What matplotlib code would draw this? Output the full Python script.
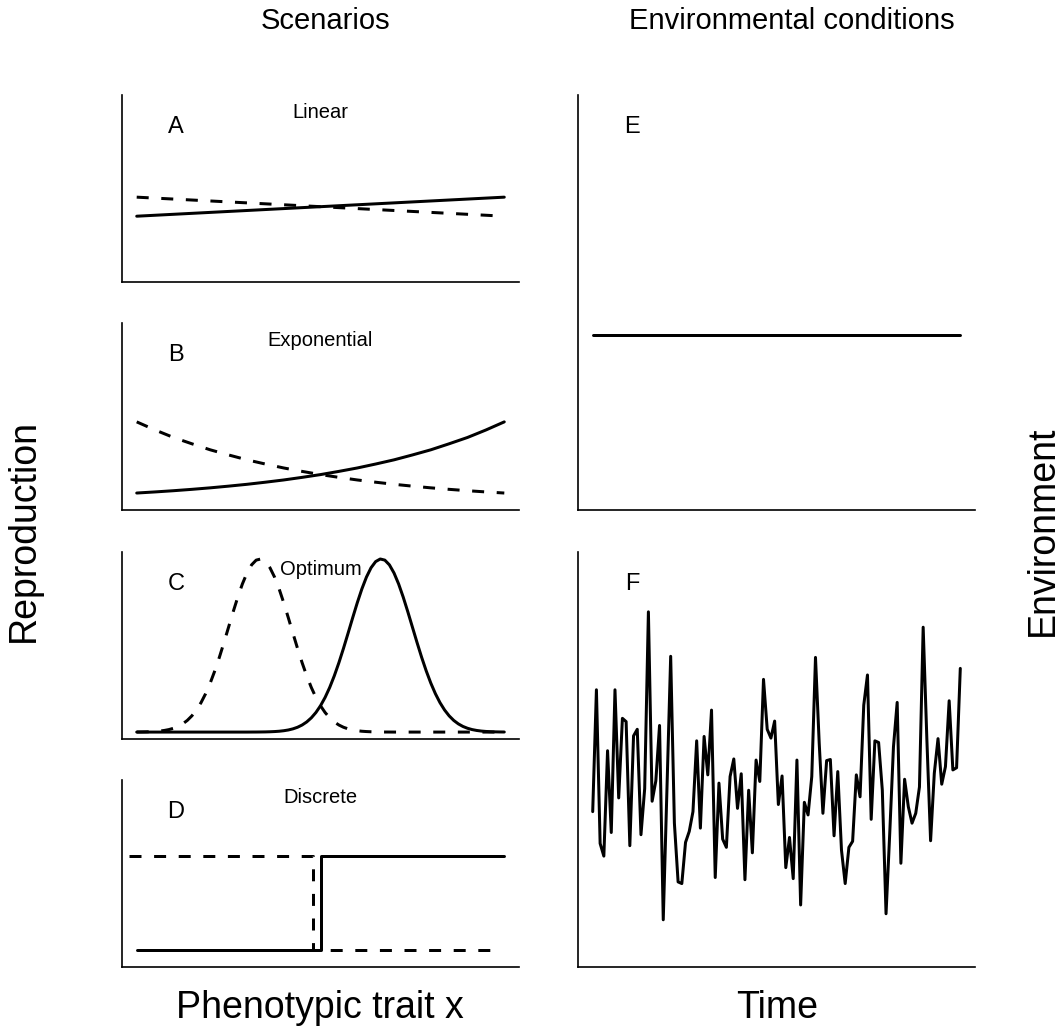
import matplotlib
matplotlib.use("Agg")
import matplotlib.pyplot as plt

plt.rcParams['font.family'] = ['Liberation Sans', 'DejaVu Sans']

# ==========================================
# data
# ==========================================
# A - linear
lin_x = [0.0, 1.0]
lin_solid = [0.34, 0.45]
lin_dash = [0.45, 0.34]

# B - exponential
exp_x = [0.0, 0.05, 0.1, 0.15, 0.2, 0.25, 0.3, 0.35, 0.4, 0.45, 0.5,
         0.55, 0.6, 0.65, 0.7, 0.75, 0.8, 0.85, 0.9, 0.95, 1.0]
exp_solid = [0.058, 0.0644, 0.0714, 0.0793, 0.0880, 0.0978, 0.1084, 0.1205,
             0.1335, 0.1485, 0.1645, 0.1830, 0.2027, 0.2255, 0.2497, 0.2779,
             0.3076, 0.3425, 0.379, 0.4221, 0.469]
exp_dash = exp_solid[::-1]

# C - optimum (sampled every 0.0125 along the trait axis)
opt_x = [i * 0.0125 for i in range(81)]
opt_solid = [0.0] * 25 + [
    0.0002, 0.0003, 0.0006, 0.0010, 0.0018, 0.0030, 0.0048, 0.0078, 0.0121, 0.0186,
    0.0278, 0.0408, 0.0585, 0.0822, 0.1130, 0.1520, 0.2000, 0.2576, 0.3247, 0.4004,
    0.4833, 0.5709, 0.6599, 0.7465, 0.8264, 0.8952, 0.9490, 0.9846, 0.9996, 0.9931,
    0.9656, 0.9187, 0.8555, 0.7795, 0.6950, 0.6065, 0.5180, 0.4328, 0.3540, 0.2833,
    0.2219, 0.1701, 0.1276, 0.0936, 0.0672, 0.0473, 0.0325, 0.0219, 0.0144, 0.0093,
    0.0059, 0.0036, 0.0022, 0.0013, 0.0007, 0.0004]
opt_dash = opt_solid[::-1]

# D - discrete
disc_solid_x = [0.0, 0.5, 0.5, 1.0]
disc_solid = [0.06, 0.06, 0.6, 0.6]
disc_dash_x = [-0.02, 0.48, 0.48, 0.98]
disc_dash = [0.6, 0.6, 0.06, 0.06]

# E / F - environment over time
time = list(range(1, 101))
env_const = [-0.1] * 100
env_noise = [-0.45, 1.77, -1.03, -1.26, 0.66, -0.83, 1.77, -0.20, 1.25, 1.19,
             -1.07, 0.93, 1.05, -0.87, -0.03, 3.19, -0.26, 0.11, 1.12, -2.42,
             -0.03, 2.38, -0.66, -1.73, -1.76, -1.01, -0.81, -0.45, 0.84, -0.75,
             0.92, 0.22, 1.40, -1.65, 0.07, -0.95, -1.10, 0.19, 0.51, -0.39,
             0.24, -1.69, -0.06, -1.20, 0.49, 0.10, 1.96, 1.05, 0.89, 1.20,
             -0.32, 0.20, -1.47, -0.92, -1.67, 0.49, -2.15, -0.28, -0.51, 0.19,
             2.36, 0.80, -0.48, 0.48, 0.50, -0.89, 0.28, -1.15, -1.76, -1.10,
             -0.99, 0.22, -0.18, 1.49, 2.04, -0.59, 0.84, 0.81, -0.06, -2.31,
             -0.84, 0.73, 1.54, -1.39, 0.14, -0.36, -0.66, -0.48, 0.00, 2.91,
             0.86, -0.98, 0.25, 0.88, 0.05, 0.37, 1.57, 0.31, 0.35, 2.16]

scenario_names = ["Linear", "Exponential", "Optimum", "Discrete"]
panel_letters = ["A", "B", "C", "D"]

# ==========================================
# layout helpers (pixel based, figure 1063 x 1032)
# ==========================================
W, H = 1063, 1032
LW = 2.16
SOLID = dict(color='black', lw=LW, solid_capstyle='round', solid_joinstyle='round')
DASH = dict(color='black', lw=LW, linestyle=(0, (4, 4.2)), dash_capstyle='butt')


def px_axes(fig, left, top, width, height):
    return fig.add_axes([left / W, (H - top - height) / H, width / W, height / H])


def style(ax):
    for s in ['top', 'right']:
        ax.spines[s].set_visible(False)
    for s in ['left', 'bottom']:
        ax.spines[s].set_linewidth(1.2)
    ax.set_xticks([])
    ax.set_yticks([])


fig = plt.figure(figsize=(W / 100, H / 100), dpi=100)

# left column: scenarios
tops = [95, 323, 552, 780]
series = [
    (lin_x, lin_solid, lin_x, lin_dash),
    (exp_x, exp_solid, exp_x, exp_dash),
    (opt_x, opt_solid, opt_x, opt_dash),
    (disc_solid_x, disc_solid, disc_dash_x, disc_dash),
]
for i, top in enumerate(tops):
    ax = px_axes(fig, 122, top, 397, 187)
    sx, sy, dx, dy = series[i]
    ax.plot(dx, dy, **DASH)
    ax.plot(sx, sy, **SOLID)
    ax.set_xlim(-0.04, 1.04)
    ax.set_ylim(-0.04, 1.04)
    style(ax)
    ax.text(0.136, 0.829, panel_letters[i], transform=ax.transAxes,
            fontsize=17, ha='center', va='center')
    ax.text(0.5, 0.905, scenario_names[i], transform=ax.transAxes,
            fontsize=14.5, ha='center', va='center')

# right column: environment
for letter, top, vals in [("E", 95, env_const), ("F", 552, env_noise)]:
    ax = px_axes(fig, 578, top, 397, 415)
    ax.plot(time, vals, **SOLID)
    ax.set_xlim(1 - 0.04 * 99, 100 + 0.04 * 99)
    ax.set_ylim(-3.28, 4.28)
    style(ax)
    ax.text(0.136, 0.924, letter, transform=ax.transAxes,
            fontsize=17, ha='center', va='center')

# titles and outer labels
fig.text(326 / W, 1 - 21 / H, "Scenarios", fontsize=21, ha='center', va='center')
fig.text(792 / W, 1 - 21 / H, "Environmental conditions", fontsize=21, ha='center', va='center')
fig.text(320 / W, 1 - 1008 / H, "Phenotypic trait x", fontsize=27, ha='center', va='center')
fig.text(777 / W, 1 - 1008 / H, "Time", fontsize=27, ha='center', va='center')
fig.text(24 / W, 1 - 531 / H, "Reproduction", fontsize=27, rotation=90, ha='center', va='center')
fig.text(1043 / W, 1 - 531 / H, "Environment", fontsize=27, rotation=90, ha='center', va='center')

fig.savefig("out.png", dpi=100)
